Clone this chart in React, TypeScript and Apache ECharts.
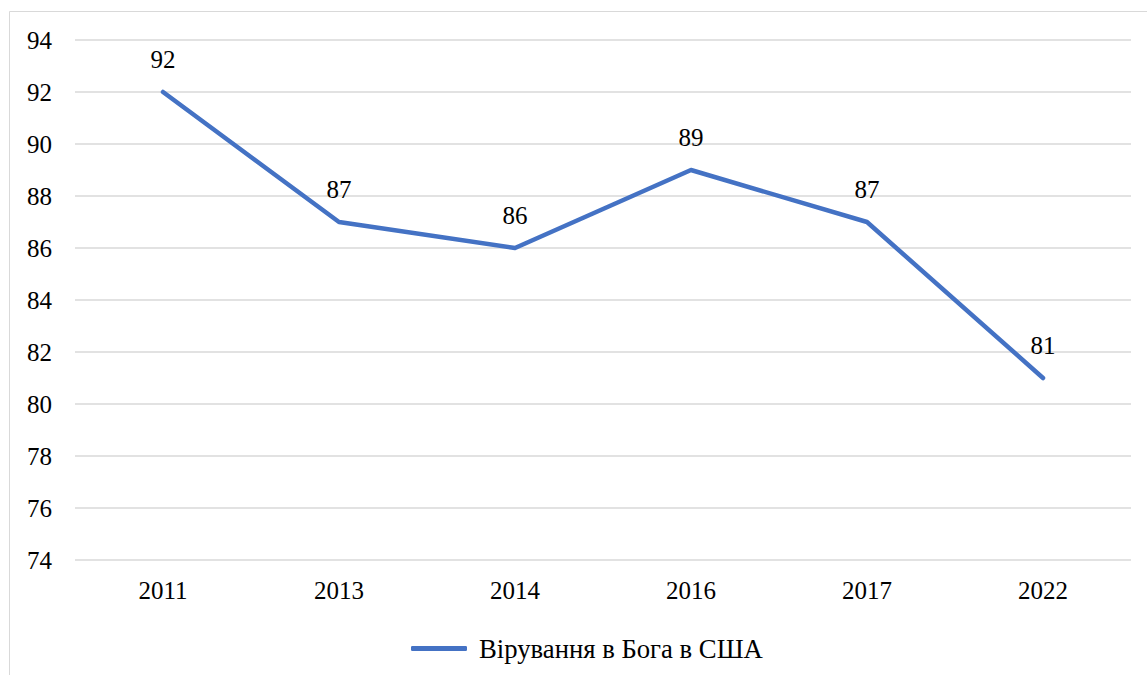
import React, { useEffect, useRef } from "react";
import * as echarts from "echarts";

const categories = ["2011", "2013", "2014", "2016", "2017", "2022"];
const values = [92, 87, 86, 89, 87, 81];
const seriesName = "Вірування в Бога в США";
const yMin = 74;
const yMax = 94;
const yInterval = 2;

const FONT = "'Liberation Serif', 'Times New Roman', serif";
const FS = 25;

export default function App() {
  const ref = useRef<HTMLDivElement>(null);
  useEffect(() => {
    document.body.style.margin = "0";
    const chart = echarts.init(ref.current!, null, { renderer: "svg" });
    chart.setOption({
      animation: false,
      backgroundColor: "#ffffff",
      textStyle: { fontFamily: FONT },
      graphic: [
        {
          type: "rect",
          shape: { x: 9.5, y: 11.5, width: 1200, height: 700 },
          style: { fill: "none", stroke: "#d9d9d9", lineWidth: 1 },
          silent: true,
        },
      ],
      grid: { left: 75, right: 16, top: 40, bottom: 115 },
      legend: {
        data: [seriesName],
        left: 406,
        top: 630,
        icon: "roundRect",
        itemWidth: 56,
        itemHeight: 5,
        itemGap: 10,
        itemStyle: { color: "#4472C4", opacity: 1 },
        textStyle: { fontFamily: FONT, fontSize: 26.7, color: "#000", padding: [0, 0, 0, 7] },
      },
      xAxis: {
        type: "category",
        data: categories,
        boundaryGap: true,
        axisLine: { show: false },
        axisTick: { show: false },
        axisLabel: { fontFamily: FONT, fontSize: FS, color: "#000", margin: 18 },
        splitLine: { show: false },
      },
      yAxis: {
        type: "value",
        min: yMin,
        max: yMax,
        interval: yInterval,
        axisLine: { show: false },
        axisTick: { show: false },
        axisLabel: { fontFamily: FONT, fontSize: FS, color: "#000", margin: 23 },
        splitLine: { lineStyle: { color: "#d9d9d9", width: 1.5 } },
      },
      series: [
        {
          name: seriesName,
          type: "line",
          data: values,
          symbol: "circle",
          symbolSize: 1,
          showSymbol: true,
          lineStyle: { color: "#4472C4", width: 4.5, cap: "round", join: "round" },
          itemStyle: { color: "#4472C4", opacity: 0 },
          label: {
            show: true,
            position: "top",
            distance: 20,
            fontFamily: FONT,
            fontSize: FS,
            color: "#000",
            opacity: 1,
          },
        },
      ],
    });
    return () => chart.dispose();
  }, []);
  return <div ref={ref} style={{ width: 1147, height: 675 }} />;
}
